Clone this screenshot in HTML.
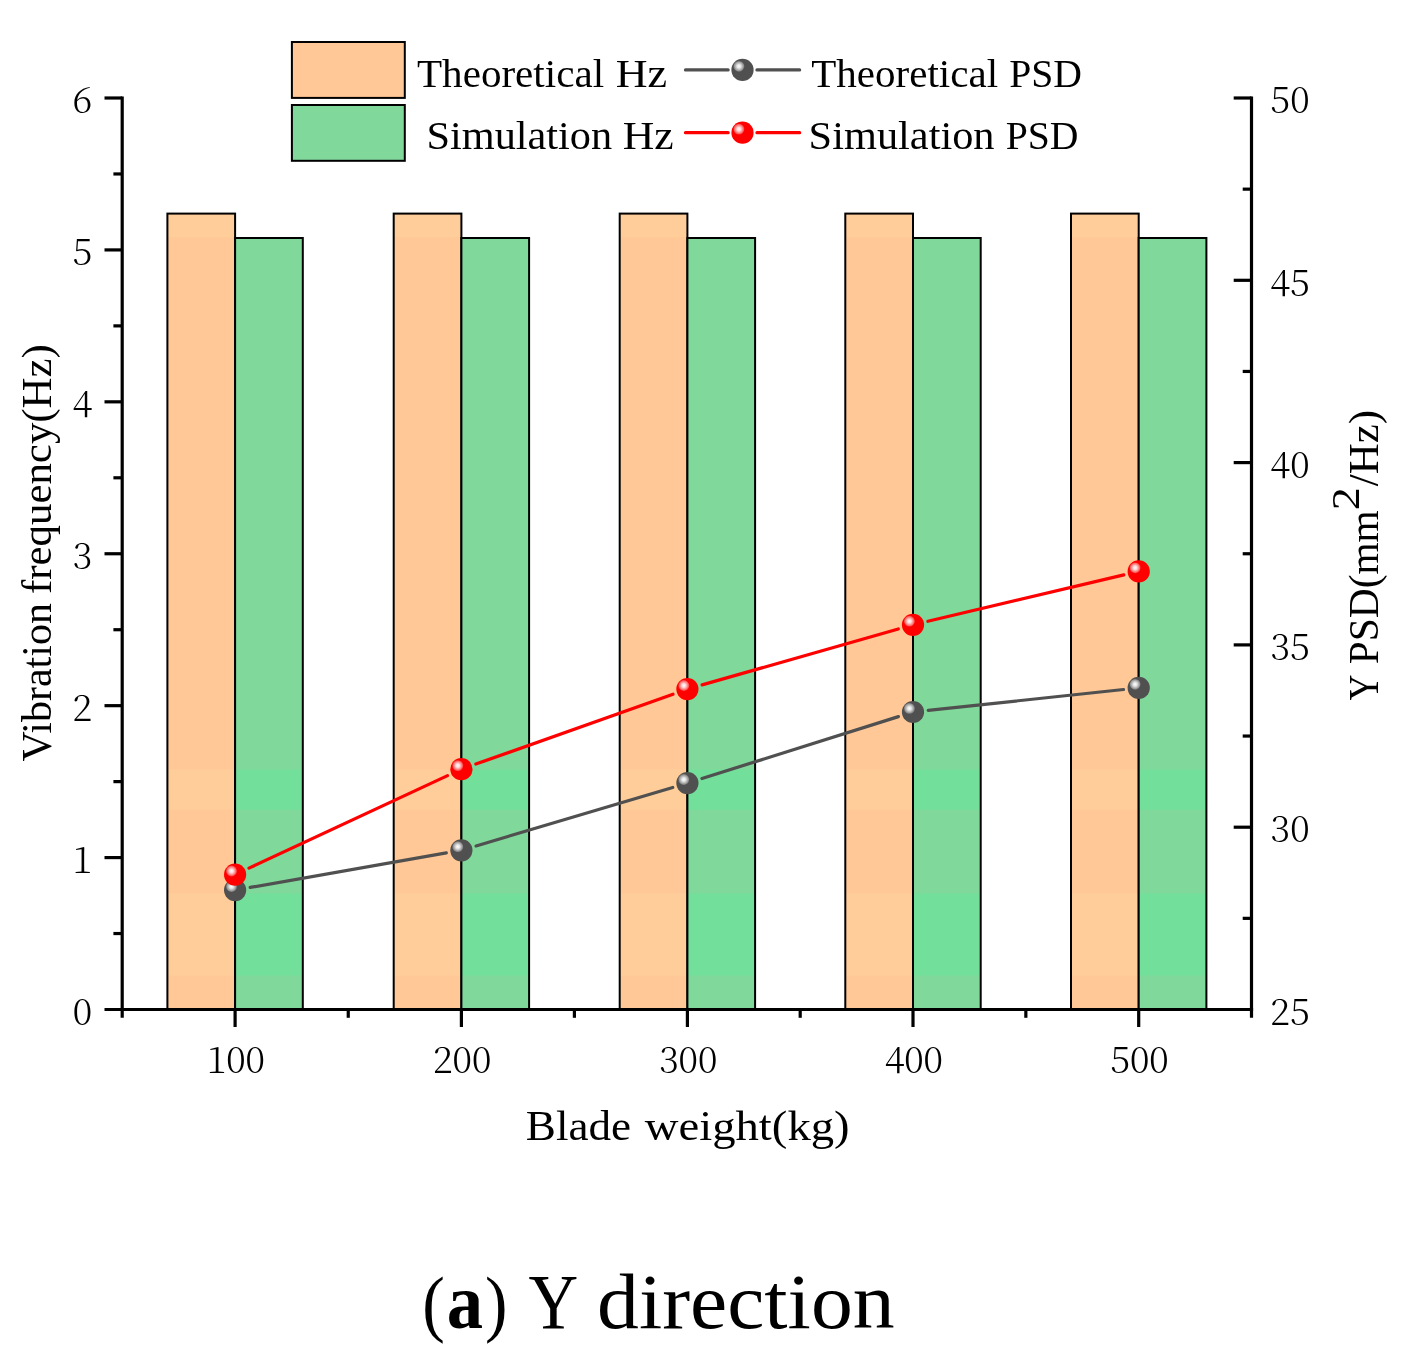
<!DOCTYPE html>
<html lang="en"><head><meta charset="utf-8"><title>(a) Y direction</title>
<style>html,body{margin:0;padding:0;background:#fff}svg{display:block}</style></head>
<body>
<svg width="1408" height="1369" viewBox="0 0 1408 1369">
<defs>
<radialGradient id="hl" cx="0.5" cy="0.5" r="0.5">
<stop offset="0" stop-color="#fff" stop-opacity="1"/>
<stop offset="0.35" stop-color="#fff" stop-opacity="0.85"/>
<stop offset="1" stop-color="#fff" stop-opacity="0.25"/>
</radialGradient>
</defs>
<rect width="1408" height="1369" fill="#fff"/>
<rect x="167.40" y="213.60" width="67.70" height="795.90" fill="#FFC896"/>
<rect x="167.40" y="769.50" width="67.70" height="40.30" fill="#FFCD99"/>
<rect x="167.40" y="893.30" width="67.70" height="82.20" fill="#FFCD99"/>
<rect x="167.40" y="213.60" width="67.70" height="23.70" fill="#FFCD99"/>
<rect x="167.40" y="213.60" width="67.70" height="795.90" fill="none" stroke="#000" stroke-width="2"/>
<rect x="235.10" y="238.00" width="67.70" height="771.50" fill="#80D89B"/>
<rect x="235.10" y="769.50" width="67.70" height="40.30" fill="#72DF9A"/>
<rect x="235.10" y="893.30" width="67.70" height="82.20" fill="#72DF9A"/>
<rect x="235.10" y="238.00" width="67.70" height="771.50" fill="none" stroke="#000" stroke-width="2"/>
<rect x="393.70" y="213.60" width="67.70" height="795.90" fill="#FFC896"/>
<rect x="393.70" y="769.50" width="67.70" height="40.30" fill="#FFCD99"/>
<rect x="393.70" y="893.30" width="67.70" height="82.20" fill="#FFCD99"/>
<rect x="393.70" y="213.60" width="67.70" height="23.70" fill="#FFCD99"/>
<rect x="393.70" y="213.60" width="67.70" height="795.90" fill="none" stroke="#000" stroke-width="2"/>
<rect x="461.40" y="238.00" width="67.70" height="771.50" fill="#80D89B"/>
<rect x="461.40" y="769.50" width="67.70" height="40.30" fill="#72DF9A"/>
<rect x="461.40" y="893.30" width="67.70" height="82.20" fill="#72DF9A"/>
<rect x="461.40" y="238.00" width="67.70" height="771.50" fill="none" stroke="#000" stroke-width="2"/>
<rect x="619.70" y="213.60" width="67.70" height="795.90" fill="#FFC896"/>
<rect x="619.70" y="769.50" width="67.70" height="40.30" fill="#FFCD99"/>
<rect x="619.70" y="893.30" width="67.70" height="82.20" fill="#FFCD99"/>
<rect x="619.70" y="213.60" width="67.70" height="23.70" fill="#FFCD99"/>
<rect x="619.70" y="213.60" width="67.70" height="795.90" fill="none" stroke="#000" stroke-width="2"/>
<rect x="687.40" y="238.00" width="67.70" height="771.50" fill="#80D89B"/>
<rect x="687.40" y="769.50" width="67.70" height="40.30" fill="#72DF9A"/>
<rect x="687.40" y="893.30" width="67.70" height="82.20" fill="#72DF9A"/>
<rect x="687.40" y="238.00" width="67.70" height="771.50" fill="none" stroke="#000" stroke-width="2"/>
<rect x="845.30" y="213.60" width="67.70" height="795.90" fill="#FFC896"/>
<rect x="845.30" y="769.50" width="67.70" height="40.30" fill="#FFCD99"/>
<rect x="845.30" y="893.30" width="67.70" height="82.20" fill="#FFCD99"/>
<rect x="845.30" y="213.60" width="67.70" height="23.70" fill="#FFCD99"/>
<rect x="845.30" y="213.60" width="67.70" height="795.90" fill="none" stroke="#000" stroke-width="2"/>
<rect x="913.00" y="238.00" width="67.70" height="771.50" fill="#80D89B"/>
<rect x="913.00" y="769.50" width="67.70" height="40.30" fill="#72DF9A"/>
<rect x="913.00" y="893.30" width="67.70" height="82.20" fill="#72DF9A"/>
<rect x="913.00" y="238.00" width="67.70" height="771.50" fill="none" stroke="#000" stroke-width="2"/>
<rect x="1071.00" y="213.60" width="67.70" height="795.90" fill="#FFC896"/>
<rect x="1071.00" y="769.50" width="67.70" height="40.30" fill="#FFCD99"/>
<rect x="1071.00" y="893.30" width="67.70" height="82.20" fill="#FFCD99"/>
<rect x="1071.00" y="213.60" width="67.70" height="23.70" fill="#FFCD99"/>
<rect x="1071.00" y="213.60" width="67.70" height="795.90" fill="none" stroke="#000" stroke-width="2"/>
<rect x="1138.70" y="238.00" width="67.70" height="771.50" fill="#80D89B"/>
<rect x="1138.70" y="769.50" width="67.70" height="40.30" fill="#72DF9A"/>
<rect x="1138.70" y="893.30" width="67.70" height="82.20" fill="#72DF9A"/>
<rect x="1138.70" y="238.00" width="67.70" height="771.50" fill="none" stroke="#000" stroke-width="2"/>
<g stroke="#000" stroke-width="3.2" fill="none" stroke-linecap="butt">
<path d="M122.2 96.4 V1017.8"/>
<path d="M1251.5 96.4 V1017.8"/>
<path d="M104.5 1009.5 H1253.1"/>
<path d="M113.4 933.54 H122.2"/>
<path d="M104.5 857.58 H122.2"/>
<path d="M113.4 781.62 H122.2"/>
<path d="M104.5 705.67 H122.2"/>
<path d="M113.4 629.71 H122.2"/>
<path d="M104.5 553.75 H122.2"/>
<path d="M113.4 477.79 H122.2"/>
<path d="M104.5 401.83 H122.2"/>
<path d="M113.4 325.88 H122.2"/>
<path d="M104.5 249.92 H122.2"/>
<path d="M113.4 173.96 H122.2"/>
<path d="M104.5 98.00 H122.2"/>
<path d="M1242.7 918.35 H1251.5"/>
<path d="M1233.7 827.20 H1251.5"/>
<path d="M1242.7 736.05 H1251.5"/>
<path d="M1233.7 644.90 H1251.5"/>
<path d="M1242.7 553.75 H1251.5"/>
<path d="M1233.7 462.60 H1251.5"/>
<path d="M1242.7 371.45 H1251.5"/>
<path d="M1233.7 280.30 H1251.5"/>
<path d="M1242.7 189.15 H1251.5"/>
<path d="M1233.7 98.00 H1251.5"/>
<path d="M235.10 1009.5 V1027"/>
<path d="M348.25 1009.5 V1017.8"/>
<path d="M461.40 1009.5 V1027"/>
<path d="M574.40 1009.5 V1017.8"/>
<path d="M687.40 1009.5 V1027"/>
<path d="M800.20 1009.5 V1017.8"/>
<path d="M913.00 1009.5 V1027"/>
<path d="M1025.85 1009.5 V1017.8"/>
<path d="M1138.70 1009.5 V1027"/>
</g>
<text x="82.4" y="1024.70" text-anchor="middle" font-family="Noto Serif CJK SC, Liberation Serif, serif" font-weight="300" font-size="36.6">0</text>
<text x="82.4" y="872.78" text-anchor="middle" font-family="Noto Serif CJK SC, Liberation Serif, serif" font-weight="300" font-size="36.6">1</text>
<text x="82.4" y="720.87" text-anchor="middle" font-family="Noto Serif CJK SC, Liberation Serif, serif" font-weight="300" font-size="36.6">2</text>
<text x="82.4" y="568.95" text-anchor="middle" font-family="Noto Serif CJK SC, Liberation Serif, serif" font-weight="300" font-size="36.6">3</text>
<text x="82.4" y="417.03" text-anchor="middle" font-family="Noto Serif CJK SC, Liberation Serif, serif" font-weight="300" font-size="36.6">4</text>
<text x="82.4" y="265.12" text-anchor="middle" font-family="Noto Serif CJK SC, Liberation Serif, serif" font-weight="300" font-size="36.6">5</text>
<text x="82.4" y="113.20" text-anchor="middle" font-family="Noto Serif CJK SC, Liberation Serif, serif" font-weight="300" font-size="36.6">6</text>
<text x="1290" y="1024.70" text-anchor="middle" font-family="Noto Serif CJK SC, Liberation Serif, serif" font-weight="300" font-size="36.6">25</text>
<text x="1290" y="842.40" text-anchor="middle" font-family="Noto Serif CJK SC, Liberation Serif, serif" font-weight="300" font-size="36.6">30</text>
<text x="1290" y="660.10" text-anchor="middle" font-family="Noto Serif CJK SC, Liberation Serif, serif" font-weight="300" font-size="36.6">35</text>
<text x="1290" y="477.80" text-anchor="middle" font-family="Noto Serif CJK SC, Liberation Serif, serif" font-weight="300" font-size="36.6">40</text>
<text x="1290" y="295.50" text-anchor="middle" font-family="Noto Serif CJK SC, Liberation Serif, serif" font-weight="300" font-size="36.6">45</text>
<text x="1290" y="113.20" text-anchor="middle" font-family="Noto Serif CJK SC, Liberation Serif, serif" font-weight="300" font-size="36.6">50</text>
<text x="235.70" y="1072.6" text-anchor="middle" letter-spacing="-0.5" font-family="Noto Serif CJK SC, Liberation Serif, serif" font-weight="300" font-size="36.6">100</text>
<text x="462.00" y="1072.6" text-anchor="middle" letter-spacing="-0.5" font-family="Noto Serif CJK SC, Liberation Serif, serif" font-weight="300" font-size="36.6">200</text>
<text x="688.00" y="1072.6" text-anchor="middle" letter-spacing="-0.5" font-family="Noto Serif CJK SC, Liberation Serif, serif" font-weight="300" font-size="36.6">300</text>
<text x="913.60" y="1072.6" text-anchor="middle" letter-spacing="-0.5" font-family="Noto Serif CJK SC, Liberation Serif, serif" font-weight="300" font-size="36.6">400</text>
<text x="1139.30" y="1072.6" text-anchor="middle" letter-spacing="-0.5" font-family="Noto Serif CJK SC, Liberation Serif, serif" font-weight="300" font-size="36.6">500</text>
<path d="M250.17 887.45 L446.33 852.95" stroke="#505050" stroke-width="3.2" stroke-linecap="round" fill="none"/>
<path d="M476.07 845.94 L672.73 787.46" stroke="#505050" stroke-width="3.2" stroke-linecap="round" fill="none"/>
<path d="M701.99 778.50 L898.41 716.60" stroke="#505050" stroke-width="3.2" stroke-linecap="round" fill="none"/>
<path d="M928.21 710.38 L1123.49 689.52" stroke="#505050" stroke-width="3.2" stroke-linecap="round" fill="none"/>
<circle cx="235.10" cy="890.10" r="11.1" fill="#505050"/>
<circle cx="231.50" cy="886.50" r="5.4" fill="url(#hl)"/>
<circle cx="461.40" cy="850.30" r="11.1" fill="#505050"/>
<circle cx="457.80" cy="846.70" r="5.4" fill="url(#hl)"/>
<circle cx="687.40" cy="783.10" r="11.1" fill="#505050"/>
<circle cx="683.80" cy="779.50" r="5.4" fill="url(#hl)"/>
<circle cx="913.00" cy="712.00" r="11.1" fill="#505050"/>
<circle cx="909.40" cy="708.40" r="5.4" fill="url(#hl)"/>
<circle cx="1138.70" cy="687.90" r="11.1" fill="#505050"/>
<circle cx="1135.10" cy="684.30" r="5.4" fill="url(#hl)"/>
<path d="M248.97 868.14 L447.53 775.66" stroke="#FF0000" stroke-width="3.2" stroke-linecap="round" fill="none"/>
<path d="M475.82 764.09 L672.98 694.21" stroke="#FF0000" stroke-width="3.2" stroke-linecap="round" fill="none"/>
<path d="M702.11 684.91 L898.29 628.99" stroke="#FF0000" stroke-width="3.2" stroke-linecap="round" fill="none"/>
<path d="M927.89 621.28 L1123.81 574.92" stroke="#FF0000" stroke-width="3.2" stroke-linecap="round" fill="none"/>
<circle cx="235.10" cy="874.60" r="11.1" fill="#FF0000"/>
<circle cx="231.50" cy="871.00" r="5.4" fill="url(#hl)"/>
<circle cx="461.40" cy="769.20" r="11.1" fill="#FF0000"/>
<circle cx="457.80" cy="765.60" r="5.4" fill="url(#hl)"/>
<circle cx="687.40" cy="689.10" r="11.1" fill="#FF0000"/>
<circle cx="683.80" cy="685.50" r="5.4" fill="url(#hl)"/>
<circle cx="913.00" cy="624.80" r="11.1" fill="#FF0000"/>
<circle cx="909.40" cy="621.20" r="5.4" fill="url(#hl)"/>
<circle cx="1138.70" cy="571.40" r="11.1" fill="#FF0000"/>
<circle cx="1135.10" cy="567.80" r="5.4" fill="url(#hl)"/>
<rect x="291.9" y="42" width="112.9" height="55.9" fill="#FFC896" stroke="#000" stroke-width="2"/>
<rect x="291.9" y="105" width="112.9" height="55.8" fill="#80D89B" stroke="#000" stroke-width="2"/>
<path d="M685.5 69.9 H728.1 M757 69.9 H799.6" stroke="#505050" stroke-width="3.3" stroke-linecap="round" fill="none"/>
<circle cx="742.50" cy="69.90" r="11.1" fill="#505050"/>
<circle cx="738.90" cy="66.30" r="5.4" fill="url(#hl)"/>
<path d="M685.5 132.7 H728.1 M757 132.7 H799.6" stroke="#FF0000" stroke-width="3.3" stroke-linecap="round" fill="none"/>
<circle cx="742.50" cy="132.70" r="11.1" fill="#FF0000"/>
<circle cx="738.90" cy="129.10" r="5.4" fill="url(#hl)"/>
<text transform="translate(417.00 87.00) scale(1.0075 1.0)" font-family="Liberation Serif, serif" font-size="40.8">Theoretical</text>
<text transform="translate(615.72 87.00) scale(1.0800 1.0)" font-family="Liberation Serif, serif" font-size="40.8">Hz</text>
<text transform="translate(426.42 149.20) scale(1.0376 1.0)" font-family="Liberation Serif, serif" font-size="40.8">Simulation</text>
<text transform="translate(622.63 149.20) scale(1.0712 1.0)" font-family="Liberation Serif, serif" font-size="40.8">Hz</text>
<text transform="translate(811.30 86.80) scale(1.0054 1.0)" font-family="Liberation Serif, serif" font-size="40.8">Theoretical</text>
<text transform="translate(1009.13 86.80) scale(0.9727 1.0)" font-family="Liberation Serif, serif" font-size="40.8">PSD</text>
<text transform="translate(808.62 148.90) scale(1.0387 1.0)" font-family="Liberation Serif, serif" font-size="40.8">Simulation</text>
<text transform="translate(1005.63 148.90) scale(0.9727 1.0)" font-family="Liberation Serif, serif" font-size="40.8">PSD</text>
<text transform="translate(525.86 1139.70) scale(1.0440 1.0)" font-family="Liberation Serif, serif" font-size="43.2">Blade</text>
<text transform="translate(644.80 1139.70) scale(1.0807 1.0)" font-family="Liberation Serif, serif" font-size="43.2">weight(kg)</text>
<text transform="translate(51.40 761.50) rotate(-90) scale(0.9883 1.0)" font-family="Liberation Serif, serif" font-size="42.5">Vibration</text>
<text transform="translate(51.40 593.91) rotate(-90) scale(1.0081 1.0)" font-family="Liberation Serif, serif" font-size="42.5">frequency(Hz)</text>
<text transform="translate(1378.00 700.60) rotate(-90) scale(0.8533 1.0)" font-family="Liberation Serif, serif" font-size="42">Y</text>
<text transform="translate(1378.00 664.18) rotate(-90) scale(0.9846 1.0)" font-family="Liberation Serif, serif" font-size="42">PSD(mm</text>
<text transform="translate(1359.00 510.36) rotate(-90) scale(1.1588 1.0)" font-family="Liberation Serif, serif" font-size="40">2</text>
<text transform="translate(1378.00 486.20) rotate(-90) scale(1.0212 1.0)" font-family="Liberation Serif, serif" font-size="42">/Hz)</text>
<text transform="translate(422.20 1328.00) scale(0.8667 0.95)" font-family="Liberation Serif, serif" font-size="78.3">(</text>
<text transform="translate(446.84 1328.00) scale(0.9278 1.0)" font-family="Liberation Serif, serif" font-size="78.3" font-weight="bold">a</text>
<text transform="translate(484.88 1328.00) scale(0.8619 0.95)" font-family="Liberation Serif, serif" font-size="78.3">)</text>
<text transform="translate(528.60 1328.00) scale(0.8782 1.0)" font-family="Liberation Serif, serif" font-size="78.3">Y</text>
<text transform="translate(597.06 1328.00) scale(1.0693 1.0)" font-family="Liberation Serif, serif" font-size="78.3">direction</text>
</svg>
</body></html>
